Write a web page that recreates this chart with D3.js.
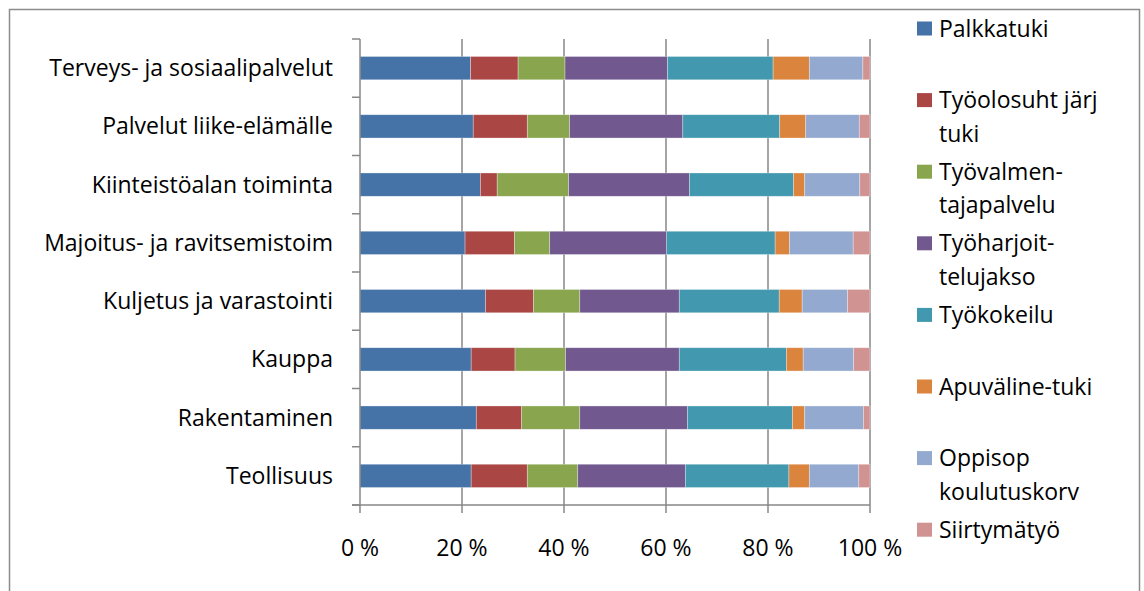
<!DOCTYPE html>
<html>
<head>
<meta charset="utf-8">
<script src="https://cdn.jsdelivr.net/npm/d3@7"></script>
<style>
  body { margin: 0; background: #fff; }
  text { font-family: "Open Sans", sans-serif; fill: #000; }
</style>
</head>
<body>
<svg id="chart" width="1144" height="591"></svg>
<script>
// categories, top to bottom as drawn
var categories = ["Terveys- ja sosiaalipalvelut", "Palvelut liike-elämälle", "Kiinteistöalan toiminta",
    "Majoitus- ja ravitsemistoim", "Kuljetus ja varastointi", "Kauppa", "Rakentaminen", "Teollisuus"];

var seriesNames = ["Palkkatuki", "Työolosuht järj tuki", "Työvalmen-tajapalvelu", "Työharjoit-telujakso",
    "Työkokeilu", "Apuväline-tuki", "Oppisop koulutuskorv", "Siirtymätyö"];

// how the legend wraps each name
var legendLines = [["Palkkatuki"], ["Työolosuht järj", "tuki"], ["Työvalmen-", "tajapalvelu"],
    ["Työharjoit-", "telujakso"], ["Työkokeilu"], ["Apuväline-tuki"], ["Oppisop", "koulutuskorv"], ["Siirtymätyö"]];

var colors = ["#4572A7", "#AA4643", "#89A54E", "#71588F", "#4198AF", "#DB843D", "#93A9CF", "#D19392"];

// share (%) of each measure by industry, same order as categories
var palkkatuki   = [21.7, 22.2, 23.6, 20.6, 24.6, 21.8, 22.8, 21.8];
var tyoolosuht   = [9.3, 10.6, 3.3, 9.7, 9.4, 8.6, 8.9, 11.0];
var tyovalmen    = [9.2, 8.3, 14.0, 6.9, 9.1, 9.9, 11.4, 9.9];
var tyoharjoit   = [20.1, 22.2, 23.7, 22.9, 19.5, 22.3, 21.1, 21.1];
var tyokokeilu   = [20.7, 19.0, 20.4, 21.3, 19.6, 21.0, 20.6, 20.3];
var apuvaline    = [7.1, 5.1, 2.2, 2.8, 4.5, 3.3, 2.4, 4.0];
var oppisop      = [10.5, 10.5, 10.8, 12.5, 8.9, 9.9, 11.5, 9.7];
var siirtymatyo  = [1.4, 2.1, 2.0, 3.3, 4.4, 3.2, 1.3, 2.2];

var xTicks = [0, 0.2, 0.4, 0.6, 0.8, 1];

var seriesValues = [palkkatuki, tyoolosuht, tyovalmen, tyoharjoit, tyokokeilu, apuvaline, oppisop, siirtymatyo];

var rows = categories.map(function (c, i) {
    var row = { category: c };
    seriesNames.forEach(function (s, j) { row[s] = seriesValues[j][i]; });
    return row;
});

var svg = d3.select("#chart");
var fontSize = 23;
var gridColor = "#878787";

/*****************  Outer border **********************/
svg.append("path")
    .attr("d", "M9.5,600 V9.5 H1139.5 V600")
    .attr("fill", "none")
    .attr("stroke", "#8c8c8c")
    .attr("stroke-width", 1.5);

var x = d3.scaleLinear().domain([0, 1]).range([360, 870]);
var y = d3.scaleBand().domain(categories).range([39, 505]).paddingInner(0.6).paddingOuter(0.3);

var stack = d3.stack().keys(seriesNames).offset(d3.stackOffsetExpand);
var layers = stack(rows);

/*****************  Gridlines **********************/
svg.append("g").selectAll("line")
    .data(xTicks.slice(1))
    .enter()
    .append("line")
    .attr("x1", function (d) { return x(d); })
    .attr("x2", function (d) { return x(d); })
    .attr("y1", 39)
    .attr("y2", 513)
    .attr("stroke", gridColor)
    .attr("stroke-width", 1.5);

/*****************  Bars **********************/
svg.append("g").selectAll("g")
    .data(layers)
    .enter()
    .append("g")
    .attr("fill", function (d, i) { return colors[i]; })
    .selectAll("rect")
    .data(function (d) { return d; })
    .enter()
    .append("rect")
    .attr("x", function (d) { return x(d[0]); })
    .attr("y", function (d) { return y(d.data.category); })
    .attr("width", function (d) { return x(d[1]) - x(d[0]); })
    .attr("height", y.bandwidth())
    .attr("stroke", "rgba(255,255,255,0.45)")
    .attr("stroke-width", 0.7);

/*****************  Axes **********************/
// vertical axis line and ticks at band boundaries
svg.append("line")
    .attr("x1", 360).attr("x2", 360)
    .attr("y1", 39).attr("y2", 513)
    .attr("stroke", gridColor).attr("stroke-width", 1.5);

var bounds = d3.range(categories.length + 1).map(function (i) { return 39 + i * (466 / categories.length); });
svg.append("g").selectAll("line")
    .data(bounds)
    .enter()
    .append("line")
    .attr("x1", 352).attr("x2", 360)
    .attr("y1", function (d) { return d; })
    .attr("y2", function (d) { return d; })
    .attr("stroke", gridColor).attr("stroke-width", 1.5);

// horizontal axis line
svg.append("line")
    .attr("x1", 352).attr("x2", 870)
    .attr("y1", 505).attr("y2", 505)
    .attr("stroke", gridColor).attr("stroke-width", 1.5);

svg.append("g").selectAll("text")
    .data(xTicks)
    .enter()
    .append("text")
    .attr("x", function (d) { return x(d); })
    .attr("y", 556)
    .attr("text-anchor", "middle")
    .attr("font-size", fontSize)
    .text(function (d) { return Math.round(d * 100) + " %"; });

svg.append("g").selectAll("text")
    .data(categories)
    .enter()
    .append("text")
    .attr("x", 333)
    .attr("y", function (d) { return y(d) + y.bandwidth() / 2; })
    .attr("dy", "0.35em")
    .attr("text-anchor", "end")
    .attr("font-size", fontSize)
    .text(function (d) { return d; });

/*****************  Legend **********************/
var legend = svg.append("g").selectAll("g")
    .data(seriesNames)
    .enter()
    .append("g")
    .attr("transform", function (d, i) { return "translate(917," + (28.5 + i * 71.6) + ")"; });

legend.append("rect")
    .attr("x", 0)
    .attr("y", -7)
    .attr("width", 15)
    .attr("height", 14)
    .attr("fill", function (d, i) { return colors[i]; });

legend.append("text")
    .attr("x", 22)
    .attr("font-size", fontSize)
    .selectAll("tspan")
    .data(function (d, i) { return legendLines[i]; })
    .enter()
    .append("tspan")
    .attr("x", 22)
    .attr("y", function (d, j) { return j * 33.5; })
    .attr("dy", "0.35em")
    .text(function (d) { return d; });
</script>
</body>
</html>
